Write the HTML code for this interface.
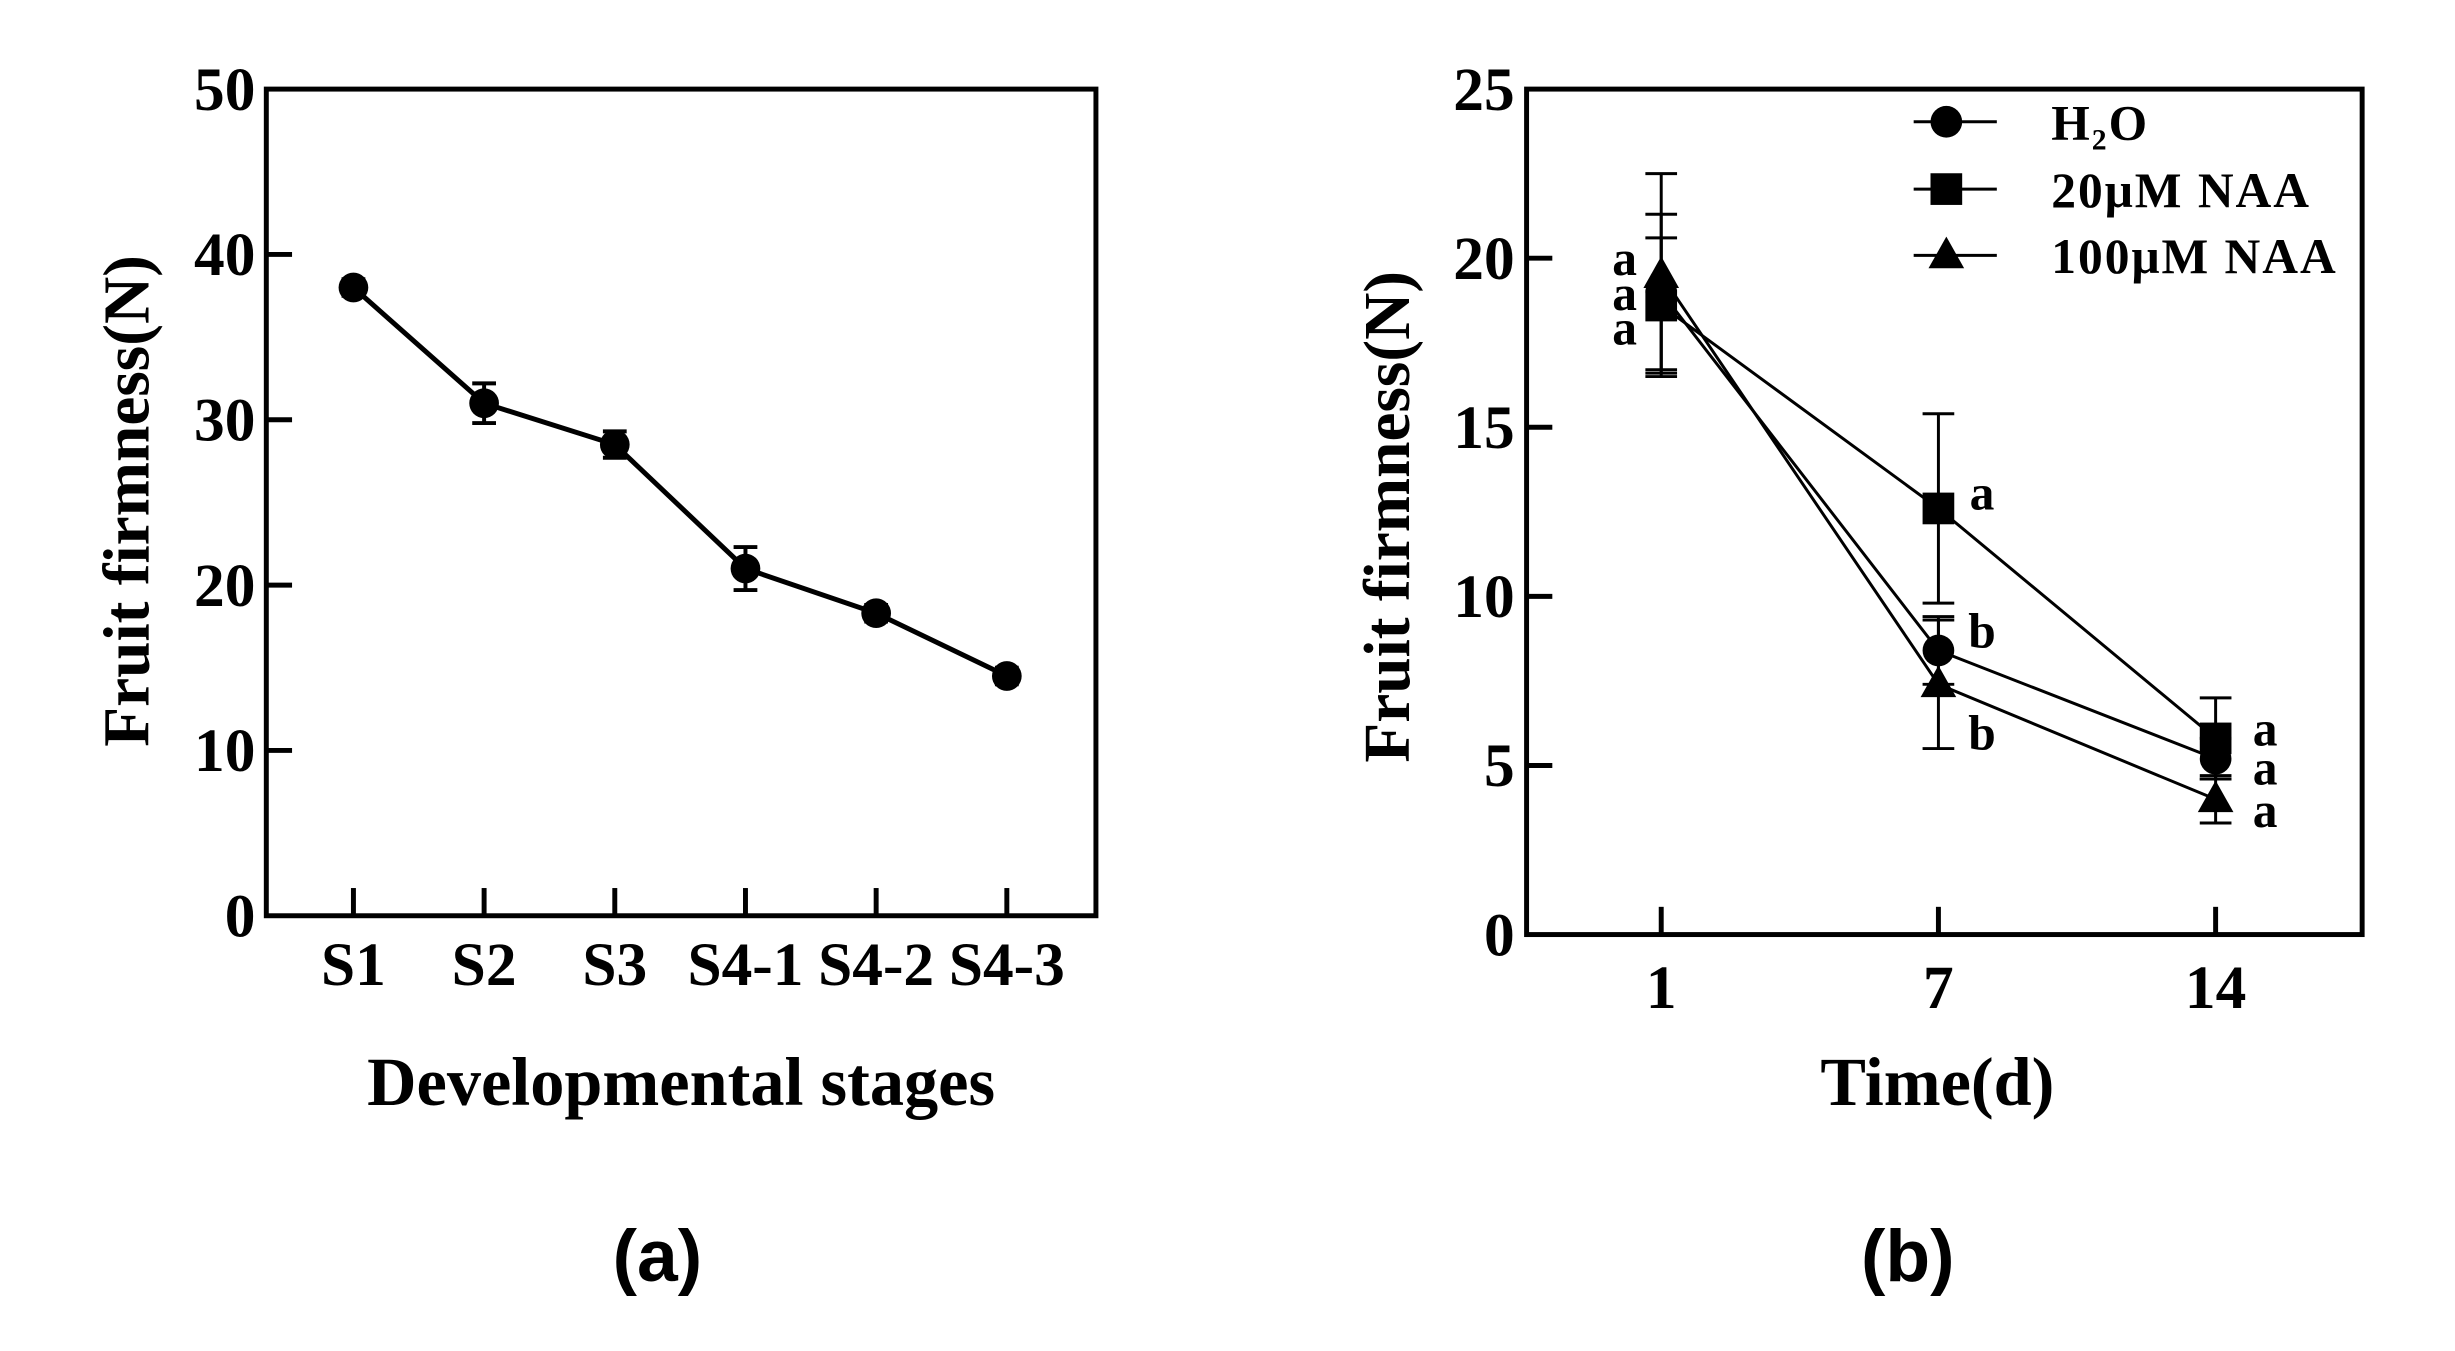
<!DOCTYPE html>
<html><head><meta charset="utf-8"><style>
html,body{margin:0;padding:0;background:#fff;}
svg{display:block;font-family:"Liberation Serif",serif;font-weight:bold;}
</style></head><body>
<svg id="fig" width="2455" height="1351" viewBox="0 0 2455 1351" xmlns="http://www.w3.org/2000/svg">
<g transform="scale(0.99)">
<g id="ga"></g>
<g id="gb"></g>
</g>
</svg>
<script>
const stagesA = ["S1","S2","S3","S4-1","S4-2","S4-3"];
const firmA = [38, 31, 28.5, 21, 18.3, 14.5];
const errA = [0.5, 1.2, 0.8, 1.3, 0.5, 0.5];
const yTicksA = [0,10,20,30,40,50];

const daysB = ["1","7","14"];
const h2oB = [19.0, 8.4, 5.2];
const h2oErrB = [2.3, 1.0, 0.6];
const naa20B = [18.6, 12.6, 5.8];
const naa20ErrB = [2.0, 2.8, 1.2];
const naa100B = [19.5, 7.4, 4.0];
const naa100ErrB = [3.0, 1.9, 0.7];
const lettersH2oB = ["a","b","a"];
const lettersNaa20B = ["a","a","a"];
const lettersNaa100B = ["a","b","a"];
const yTicksB = [0,5,10,15,20,25];

const NS="http://www.w3.org/2000/svg";
function mk(parent, tag, attrs, text){
  const e=document.createElementNS(NS,tag);
  for(const k in attrs) e.setAttribute(k,attrs[k]);
  if(text!==undefined) e.textContent=text;
  parent.appendChild(e); return e;
}

// ---------- Panel A ----------
(function(){
  const g=document.getElementById('ga');
  const L=269,R=1107,T=90,B=925;
  const y=v=>B-(v/50)*(B-T);
  const x=i=>357+i*132;
  let e=mk(g,'rect',{x:L,y:T,width:R-L,height:B-T,fill:'none',stroke:'#000','stroke-width':5});
  
  
  yTicksA.forEach(v=>{
    if(v>0&&v<50){
      let t=mk(g,'line',{x1:L,x2:L+26,y1:y(v),y2:y(v),stroke:'#000','stroke-width':5});
      
      
    }
    let lb=mk(g,'text',{x:258,y:y(v)+21,'text-anchor':'end','font-size':62},String(v));
    
    
  });
  stagesA.forEach((s,i)=>{
    let t=mk(g,'line',{x1:x(i),x2:x(i),y1:B,y2:B-28,stroke:'#000','stroke-width':5});
    
    
    let lb=mk(g,'text',{x:x(i),y:995,'text-anchor':'middle','font-size':62},s);
    
    
  });
  let pts=firmA.map((v,i)=>x(i)+','+y(v)).join(' ');
  let pl=mk(g,'polyline',{points:pts,fill:'none',stroke:'#000','stroke-width':5});
  
  
  firmA.forEach((v,i)=>{
    let eb=mk(g,'path',{d:`M${x(i)} ${y(v+errA[i])}V${y(v-errA[i])}M${x(i)-12} ${y(v+errA[i])}h24M${x(i)-12} ${y(v-errA[i])}h24`,stroke:'#000','stroke-width':4,fill:'none'});
    
    
    let c=mk(g,'circle',{cx:x(i),cy:y(v),r:15,fill:'#000'});
    
    
  });
  let yt=mk(g,'text',{x:0,y:0,'text-anchor':'middle','font-size':66,transform:'translate(150,506) rotate(-90)'},'Fruit firmness(N)');
  
  
  let xt=mk(g,'text',{x:688,y:1116,'text-anchor':'middle','font-size':69},'Developmental stages');
  
  
  let pa=mk(g,'text',{x:664,y:1294,'text-anchor':'middle','font-size':74,'font-family':'Liberation Sans, sans-serif'},'(a)');
  
  
})();

// ---------- Panel B ----------
(function(){
  const g=document.getElementById('gb');
  const L=1542,R=2386,T=90,B=944;
  const y=v=>B-(v/25)*(B-T);
  const x=i=>1678+i*280;
  let e=mk(g,'rect',{x:L,y:T,width:R-L,height:B-T,fill:'none',stroke:'#000','stroke-width':5});
  
  
  yTicksB.forEach(v=>{
    if(v>0&&v<25){
      let t=mk(g,'line',{x1:L,x2:L+26,y1:y(v),y2:y(v),stroke:'#000','stroke-width':5});
      
      
    }
    let lb=mk(g,'text',{x:1530,y:y(v)+21,'text-anchor':'end','font-size':62},String(v));
    
    
  });
  daysB.forEach((d,i)=>{
    let t=mk(g,'line',{x1:x(i),x2:x(i),y1:B,y2:B-28,stroke:'#000','stroke-width':5});
    
    
    let lb=mk(g,'text',{x:x(i),y:1018,'text-anchor':'middle','font-size':62},d);
    
    
  });
  function marker(par,shape,cx,cy){
    if(shape==='circle') return mk(par,'circle',{cx:cx,cy:cy,r:16,fill:'#000'});
    if(shape==='square') return mk(par,'rect',{x:cx-16,y:cy-16,width:32,height:32,fill:'#000'});
    return mk(par,'polygon',{points:`${cx},${cy-19} ${cx-18},${cy+13} ${cx+18},${cy+13}`,fill:'#000'});
  }
  const series=[
    {name:'h2o',vals:h2oB,err:h2oErrB,shape:'circle',letters:lettersH2oB,off:[0,-20,9]},
    {name:'naa-20',vals:naa20B,err:naa20ErrB,shape:'square',letters:lettersNaa20B,off:[0,-16,-10]},
    {name:'naa-100',vals:naa100B,err:naa100ErrB,shape:'triangle',letters:lettersNaa100B,off:[0,49,11]}
  ];
  series.forEach(s=>{
    let pl=mk(g,'polyline',{points:s.vals.map((v,i)=>x(i)+','+y(v)).join(' '),fill:'none',stroke:'#000','stroke-width':3});
    
    
  });
  series.forEach(s=>{
    s.vals.forEach((v,i)=>{
      const hi=y(v+s.err[i]),lo=y(v-s.err[i]);
      let eb=mk(g,'path',{d:`M${x(i)} ${hi}V${lo}M${x(i)-16} ${hi}h32M${x(i)-16} ${lo}h32`,stroke:'#000','stroke-width':3,fill:'none'});
      
      
      let m=marker(g,s.shape,x(i),y(v));
      
      
    });
  });
  const order=[2,0,1];
  order.forEach((si,k)=>{
    const s=series[si];
    let t=mk(g,'text',{x:1641,y:278+k*35,'text-anchor':'middle','font-size':50},s.letters[0]);
    
    
  });
  series.forEach(s=>{
    for(let i=1;i<s.vals.length;i++){
      const dx = i===1 ? 44 : 50;
      let t=mk(g,'text',{x:x(i)+dx,y:y(s.vals[i])+s.off[i]+17,'text-anchor':'middle','font-size':50},s.letters[i]);
      
      
    }
  });
  const legY=[123,191,258], legLabels=['H₂O','20μM NAA','100μM NAA'];
  series.forEach((s,k)=>{
    let lg=mk(g,'g',{});
    
    
    let ln=mk(lg,'line',{x1:1933,x2:2017,y1:legY[k],y2:legY[k],stroke:'#000','stroke-width':3});
    
    
    let m=marker(lg,s.shape,1966,legY[k]);
    
    
    let t=mk(lg,'text',{x:2072,y:legY[k]+18,'font-size':50,'letter-spacing':2},legLabels[k]);
    
    
  });
  let yt=mk(g,'text',{x:0,y:0,'text-anchor':'middle','font-size':66,transform:'translate(1423,522) rotate(-90)'},'Fruit firmness(N)');
  
  
  let xt=mk(g,'text',{x:1957,y:1116,'text-anchor':'middle','font-size':69},'Time(d)');
  
  
  let pb=mk(g,'text',{x:1927,y:1294,'text-anchor':'middle','font-size':74,'font-family':'Liberation Sans, sans-serif'},'(b)');
  
  
})();
</script>
</body></html>
